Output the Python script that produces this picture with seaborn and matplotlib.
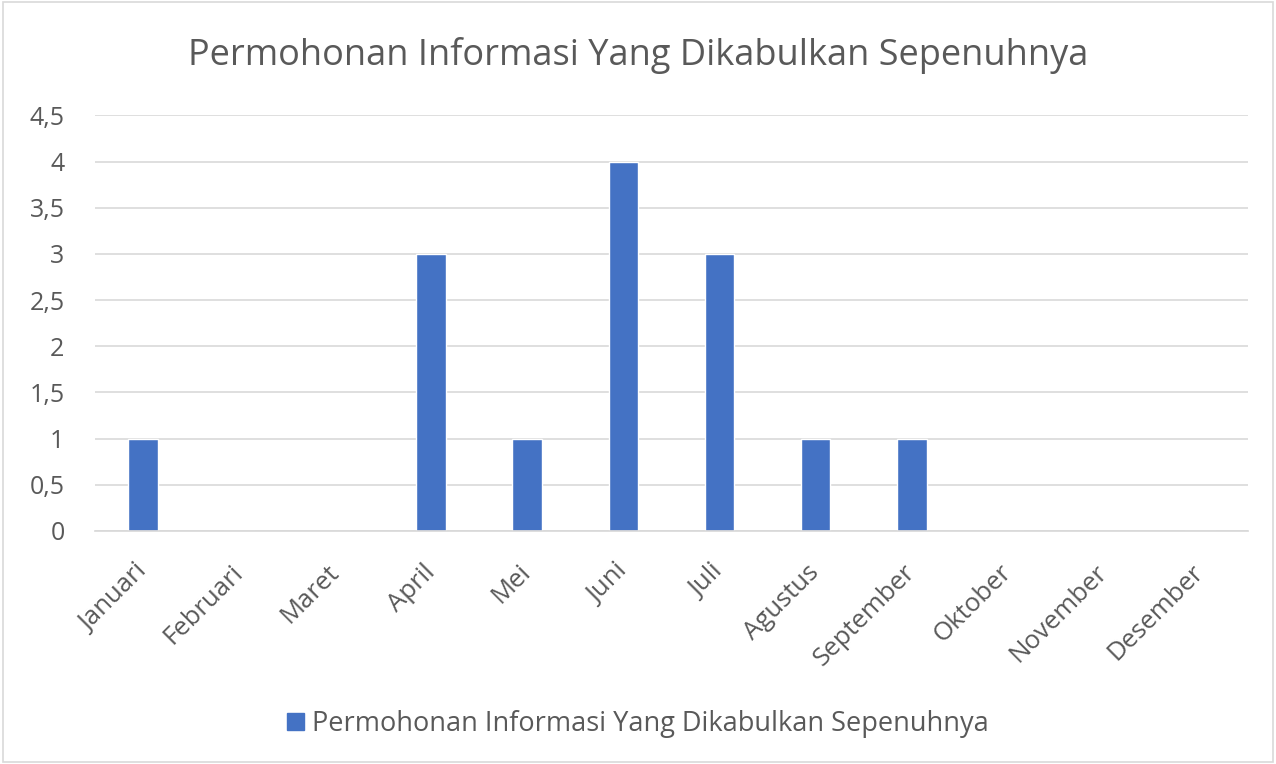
import matplotlib
matplotlib.use("Agg")
import matplotlib.pyplot as plt
import seaborn as sns
import pandas as pd
from matplotlib.patches import Rectangle
from matplotlib.ticker import FuncFormatter

bulan = ["Januari", "Februari", "Maret", "April", "Mei", "Juni",
         "Juli", "Agustus", "September", "Oktober", "November", "Desember"]
jumlah = [1, 0, 0, 3, 1, 4, 3, 1, 1, 0, 0, 0]
judul = "Permohonan Informasi Yang Dikabulkan Sepenuhnya"
y_ticks = [0, 0.5, 1, 1.5, 2, 2.5, 3, 3.5, 4, 4.5]

sns.set_theme(style="white")
plt.rcParams["font.family"] = ["Open Sans", "DejaVu Sans"]

df = pd.DataFrame({"bulan": bulan, "jumlah": jumlah})
text_color = "#595959"
bar_color = "#4472C4"

fig = plt.figure(figsize=(12.76, 7.64), dpi=100)
ax = fig.add_axes([0.0745, 0.305, 0.9035, 0.544])

sns.barplot(data=df, x="bulan", y="jumlah", color=bar_color, width=0.31,
            saturation=1, ax=ax)

ax.set_ylim(0, 4.5)
ax.set_yticks(y_ticks)
ax.yaxis.set_major_formatter(FuncFormatter(lambda v, p: f"{v:g}".replace(".", ",")))
ax.grid(axis="y", color="#D9D9D9", linewidth=1.2)
ax.set_axisbelow(True)
for s in ["top", "right", "left"]:
    ax.spines[s].set_visible(False)
ax.spines["bottom"].set_color("#D9D9D9")
ax.set_xlabel("")
ax.set_ylabel("")
ax.tick_params(axis="y", length=0, labelsize=18, colors=text_color, pad=22)
ax.tick_params(axis="x", length=0, labelsize=18.5, colors=text_color, pad=27)
plt.setp(ax.get_xticklabels(), rotation=45, ha="right", va="center",
         rotation_mode="anchor")
for lbl in ax.get_xticklabels():
    lbl.set_x(lbl.get_position()[0])

fig.text(0.5, 0.928, judul, ha="center", va="center", fontsize=26, color=text_color)

# legend at bottom
handle = Rectangle((0, 0), 1, 1, color=bar_color)
fig.legend([handle], [judul], loc="center", bbox_to_anchor=(0.5, 0.052),
           frameon=False, fontsize=19.5, labelcolor=text_color,
           handlelength=0.6, handleheight=0.6, handletextpad=0.3)

# outer border
fig.patches.append(Rectangle((0.002, 0.003), 0.996, 0.994, transform=fig.transFigure,
                             fill=False, edgecolor="#D9D9D9", linewidth=1.2))

plt.savefig("out.png", dpi=100)
